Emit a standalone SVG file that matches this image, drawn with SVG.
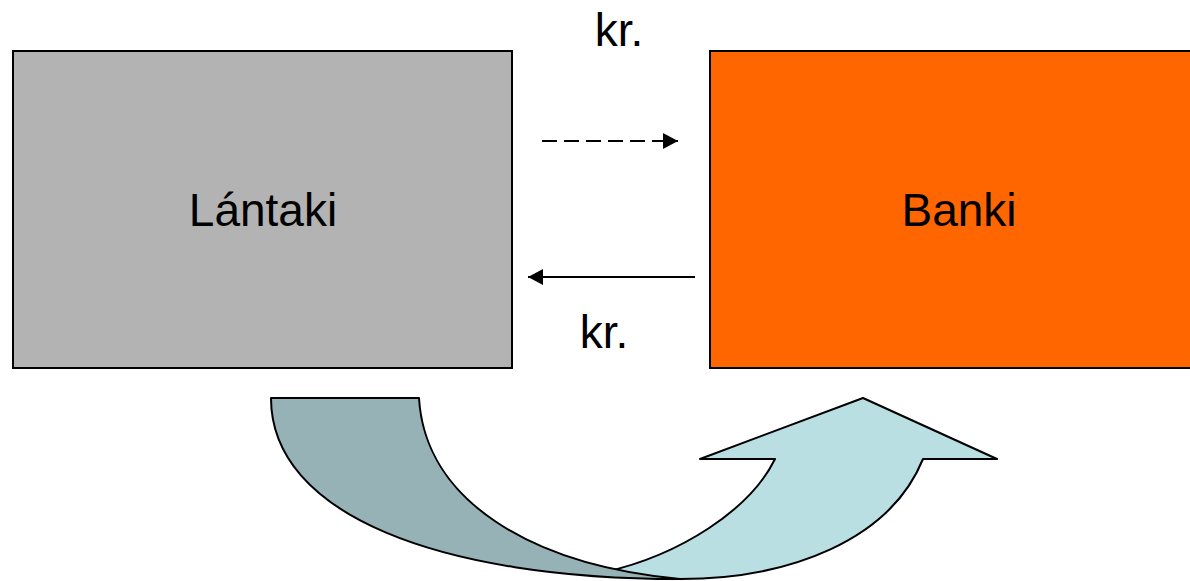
<svg xmlns="http://www.w3.org/2000/svg" width="1190" height="581" viewBox="0 0 1190 581">
<style>
.box{stroke:#000;stroke-width:2}
.lbl{font-family:"Liberation Sans",Arial,sans-serif;font-size:46px;fill:#000;text-anchor:middle}
.band{stroke:#000;stroke-width:2;stroke-linejoin:round}
.edge{stroke:#000;stroke-width:2;stroke-linejoin:round;fill:none}
.conn{stroke:#000;stroke-width:2;fill:none}
</style>
<defs>
<marker id="ah" viewBox="0 0 15 16" refX="15" refY="8" markerWidth="15" markerHeight="16" markerUnits="userSpaceOnUse" orient="auto">
<path d="M0,0 L15,8 L0,16 Z" fill="#000"/>
</marker>
</defs>
<rect width="1190" height="581" fill="#fff"/>
<g id="lantaki">
<rect class="box" x="13" y="51" width="499" height="317" fill="#b3b3b3"/>
<text class="lbl" x="263" y="226">Lántaki</text>
</g>
<g id="banki">
<rect class="box" x="710" y="51" width="510" height="317" fill="#ff6600"/>
<text class="lbl" x="959" y="226">Banki</text>
</g>
<g id="connectors">
<line class="conn" x1="542" y1="141" x2="678" y2="141" stroke-dasharray="15,7" marker-end="url(#ah)"/>
<line class="conn" x1="695" y1="277" x2="528" y2="277" marker-end="url(#ah)"/>
<text class="lbl" x="619" y="46">kr.</text>
<text class="lbl" x="604" y="348">kr.</text>
</g>
<g id="curved-arrow">
<path fill="#b9dfe3" d="M700,459 L863,398 L997,459 L923,459 C890,540 790,579 680,579 L620,579 L605,572 C680,555 750,510 775,459 Z"/>
<path class="edge" d="M605,572 C680,555 750,510 775,459 L700,459 L863,398 L997,459 L923,459 C890,540 790,579 680,579"/>
<path class="band" fill="#96b2b7" d="M271,398 L419,398 C425,500 530,565 680,579 C440,579 271,515 271,398 Z"/>
</g>
</svg>
